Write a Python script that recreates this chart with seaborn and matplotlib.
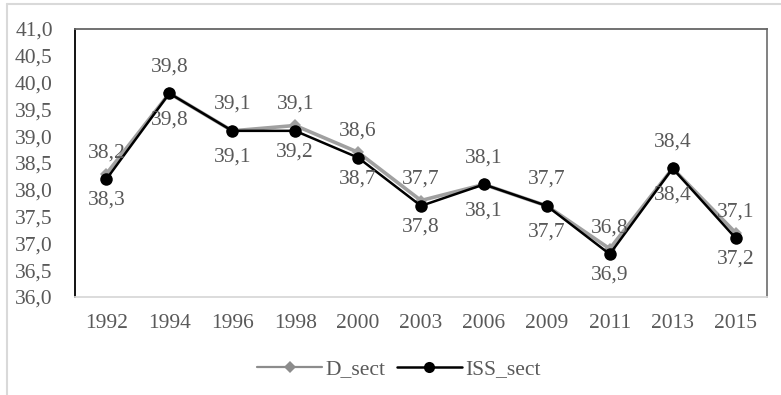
import matplotlib
matplotlib.use("Agg")
import matplotlib.pyplot as plt
from matplotlib.lines import Line2D
import seaborn as sns
import pandas as pd

years = ["1992", "1994", "1996", "1998", "2000", "2003", "2006", "2009", "2011", "2013", "2015"]
d_sect = [38.3, 39.8, 39.1, 39.2, 38.7, 37.8, 38.1, 37.7, 36.9, 38.4, 37.2]
iss_sect = [38.2, 39.8, 39.1, 39.1, 38.6, 37.7, 38.1, 37.7, 36.8, 38.4, 37.1]
y_ticks = [36.0, 36.5, 37.0, 37.5, 38.0, 38.5, 39.0, 39.5, 40.0, 40.5, 41.0]

sns.set_theme(style="white")
plt.rcParams["font.family"] = ["Liberation Serif", "DejaVu Serif"]
text_color = "#595959"
fs = 15.5

df = pd.DataFrame({"year": years, "D_sect": d_sect, "ISS_sect": iss_sect})

fig = plt.figure(figsize=(7.81, 3.95), dpi=100)
ax = fig.add_axes([75 / 781, 98 / 395, 692 / 781, 268 / 395])

sns.lineplot(data=df, x="year", y="D_sect", ax=ax, color="#a0a0a0", linewidth=2.6,
             marker="D", markersize=6, markeredgewidth=0, label="D_sect", sort=False)
sns.lineplot(data=df, x="year", y="ISS_sect", ax=ax, color="black", linewidth=1.8,
             marker="o", markersize=9, markeredgewidth=0, label="ISS_sect", sort=False)

# value labels: ISS_sect above the points, D_sect below
for i, v in enumerate(iss_sect):
    ax.annotate(f"{v:.1f}".replace(".", ","), (i, v), xytext=(0, 19), textcoords="offset points",
                ha="center", va="center", fontsize=fs, color=text_color)
for i, v in enumerate(d_sect):
    ax.annotate(f"{v:.1f}".replace(".", ","), (i, v), xytext=(0, -19), textcoords="offset points",
                ha="center", va="center", fontsize=fs, color=text_color)

ax.set_xlim(-0.5, len(years) - 0.5)
ax.set_ylim(36.0, 41.0)
ax.set_yticks(y_ticks)
ax.set_yticklabels([f"{t:.1f}".replace(".", ",") for t in y_ticks])
ax.set_xlabel("")
ax.set_ylabel("")
ax.tick_params(axis="both", length=0, labelsize=fs, labelcolor=text_color)
ax.tick_params(axis="y", pad=16)
ax.tick_params(axis="x", pad=12)
ax.grid(False)

ax.spines["left"].set_color("black")
ax.spines["top"].set_color("#666666")
ax.spines["right"].set_color("#777777")
ax.spines["bottom"].set_color("#d9d9d9")
for s in ax.spines.values():
    s.set_linewidth(1.3)

leg = ax.legend(loc="upper center", bbox_to_anchor=(0.468, -0.16), ncol=2, frameon=False,
                fontsize=fs, handlelength=3.0, columnspacing=0.55, handletextpad=0.15)
for t in leg.get_texts():
    t.set_color(text_color)
handles = leg.legend_handles
handles[0].set_linewidth(1.6)
handles[0].set_color("#8c8c8c")
handles[1].set_markersize(8)

# outer chart border (top and left edges)
fig.add_artist(Line2D([7 / 781, 1], [1 - 4 / 395, 1 - 4 / 395], transform=fig.transFigure,
                      color="#d9d9d9", linewidth=1.5))
fig.add_artist(Line2D([7 / 781, 7 / 781], [0, 1 - 4 / 395], transform=fig.transFigure,
                      color="#d9d9d9", linewidth=1.5))

fig.savefig("out.png", dpi=100)
